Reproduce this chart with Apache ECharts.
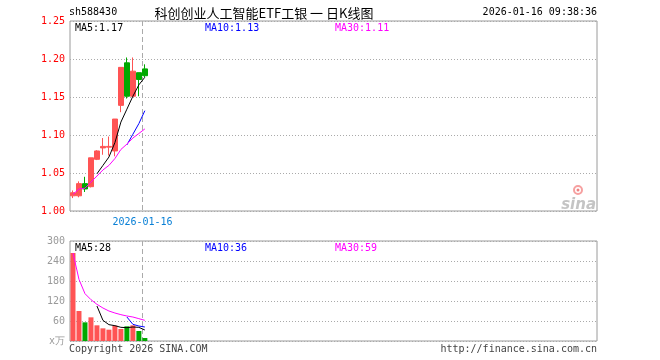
<!DOCTYPE html>
<html><head><meta charset="utf-8">
<script src="https://cdn.jsdelivr.net/npm/echarts@6/dist/echarts.min.js"></script>
<style>html,body{margin:0;padding:0;background:#fff}#c{width:660px;height:360px}</style>
</head><body><div id="c"></div><script>
// ---- data ----
const dates = ['2025-12-29','2025-12-30','2025-12-31','2026-01-05','2026-01-06','2026-01-07','2026-01-08','2026-01-09','2026-01-12','2026-01-13','2026-01-14','2026-01-15','2026-01-16'];
const opens  = [1.020,1.020,1.036,1.032,1.068,1.083,1.084,1.079,1.139,1.195,1.151,1.182,1.187];
const closes = [1.024,1.036,1.029,1.070,1.079,1.085,1.085,1.121,1.189,1.151,1.184,1.173,1.178];
const lows   = [1.017,1.018,1.025,1.031,1.067,1.074,1.073,1.072,1.130,1.148,1.150,1.151,1.176];
const highs  = [1.027,1.039,1.045,1.070,1.080,1.096,1.098,1.121,1.189,1.202,1.202,1.182,1.193];
const volumes = [264,90,56,71,47,38,34,46,36,44,47,30,9];
const ma5  = [null,null,null,null,1.049,1.060,1.071,1.090,1.117,1.134,1.151,1.166,1.176];
const ma10 = [null,null,null,null,null,null,null,null,null,1.087,1.101,1.115,1.132];
const ma30 = [1.022,1.029,1.030,1.038,1.046,1.054,1.060,1.069,1.081,1.088,1.096,1.102,1.108];
const volMa5  = [null,null,null,null,105,62,49,46,41,40,42,41,33];
const volMa10 = [null,null,null,null,null,null,null,null,null,72,50,45,42];
const volMa30 = [264,185,142,124,110,99,90,84,79,75,72,67,62];
const priceAxis = {min:1.00, max:1.25, interval:0.05};
const volAxis = {min:0, max:300, interval:60};
const slotCount = 88;
const code = 'sh588430';
const title = '科创创业人工智能ETF工银 一 日K线图';
const timeText = '2026-01-16 09:38:36';
const priceMaText = ['MA5:1.17','MA10:1.13','MA30:1.11'];
const volMaText = ['MA5:28','MA10:36','MA30:59'];
const dateMark = '2026-01-16';

// ---- build ----
const RED = '#ff5454', GREEN = '#00a800';
const cats = dates.slice();
for (let i = dates.length; i < slotCount; i++) cats.push('_' + i);
const candle = dates.map((d,i)=>[opens[i],closes[i],lows[i],highs[i]]);
const volData = volumes.map((v,i)=>({value:v,itemStyle:{color: closes[i]>=opens[i]?RED:GREEN}}));
const MONO = '"DejaVu Sans Mono", "Liberation Mono", monospace';
const dotted = {show:true,lineStyle:{color:'#aaa',type:[1,2],width:1}};

const chart = echarts.init(document.getElementById('c'), null, {renderer:'canvas'});
const base = {
  animation:false,
  grid:[
    {left:70,right:63,top:21,height:190,show:true,borderColor:'#9a9a9a',borderWidth:1,backgroundColor:'transparent'},
    {left:70,right:63,top:241,height:100,show:true,borderColor:'#9a9a9a',borderWidth:1,backgroundColor:'transparent'}
  ],
  xAxis:[
    {type:'category',gridIndex:0,data:cats,boundaryGap:true,axisLine:{show:false},axisTick:{show:false},axisLabel:{show:false},splitLine:{show:false}},
    {type:'category',gridIndex:1,data:cats,boundaryGap:true,axisLine:{show:false},axisTick:{show:false},axisLabel:{show:false},splitLine:{show:false}}
  ],
  yAxis:[
    {type:'value',gridIndex:0,min:priceAxis.min,max:priceAxis.max,interval:priceAxis.interval,
     axisLine:{show:false},axisTick:{show:false},splitLine:dotted,
     axisLabel:{color:'#f00',fontFamily:MONO,fontSize:10,margin:5,formatter:v=>v.toFixed(2)}},
    {type:'value',gridIndex:1,min:volAxis.min,max:volAxis.max,interval:volAxis.interval,
     axisLine:{show:false},axisTick:{show:false},splitLine:dotted,
     axisLabel:{color:'#9a9a9a',fontFamily:MONO,fontSize:10,margin:5,formatter:v=>v===0?'x万':String(v)}}
  ],
  series:[
    {type:'candlestick',xAxisIndex:0,yAxisIndex:0,data:candle,barWidth:5,
     itemStyle:{color:RED,color0:GREEN,borderColor:RED,borderColor0:GREEN,borderWidth:1}},
    {type:'line',xAxisIndex:0,yAxisIndex:0,data:ma5,showSymbol:false,lineStyle:{color:'#000',width:1},itemStyle:{color:'#000'}},
    {type:'line',xAxisIndex:0,yAxisIndex:0,data:ma10,showSymbol:false,lineStyle:{color:'#0000ff',width:1},itemStyle:{color:'#0000ff'}},
    {type:'line',xAxisIndex:0,yAxisIndex:0,data:ma30,showSymbol:false,lineStyle:{color:'#ff00ff',width:1},itemStyle:{color:'#ff00ff'}},
    {type:'bar',xAxisIndex:1,yAxisIndex:1,data:volData,barWidth:5},
    {type:'line',xAxisIndex:1,yAxisIndex:1,data:volMa5,showSymbol:false,lineStyle:{color:'#000',width:1},itemStyle:{color:'#000'}},
    {type:'line',xAxisIndex:1,yAxisIndex:1,data:volMa10,showSymbol:false,lineStyle:{color:'#0000ff',width:1},itemStyle:{color:'#0000ff'}},
    {type:'line',xAxisIndex:1,yAxisIndex:1,data:volMa30,showSymbol:false,lineStyle:{color:'#ff00ff',width:1},itemStyle:{color:'#ff00ff'}}
  ]
};
chart.setOption(base);

const p11 = chart.convertToPixel({xAxisIndex:0}, dates.length-2);
const p12 = chart.convertToPixel({xAxisIndex:0}, dates.length-1);
const sepX = Math.round((p11+p12)/2) + 0.5;
const topP = chart.convertToPixel({yAxisIndex:0}, priceAxis.max);
const botP = chart.convertToPixel({yAxisIndex:0}, priceAxis.min);
const topV = chart.convertToPixel({yAxisIndex:1}, volAxis.max);
const botV = chart.convertToPixel({yAxisIndex:1}, volAxis.min);
const left = 70, right = 597;
function txt(t,x,y,fill,font,align){return {type:'text',x:x,y:y,silent:true,style:{text:t,fill:fill,font:font,align:align||'left',verticalAlign:'middle'}};}
const f10 = '10px ' + MONO;
chart.setOption({graphic:[
  {type:'line',silent:true,shape:{x1:sepX,y1:topP,x2:sepX,y2:botP},style:{stroke:'#aaa',lineWidth:1,lineDash:[5,3]}},
  {type:'line',silent:true,shape:{x1:sepX,y1:topV,x2:sepX,y2:botV},style:{stroke:'#aaa',lineWidth:1,lineDash:[5,3]}},
  txt(code,left-1,12,'#000',f10),
  txt(title,264,13,'#000','13px "Noto Sans CJK SC", sans-serif','center'),
  txt(timeText,right,12,'#000',f10,'right'),
  txt(priceMaText[0],75,28,'#000',f10),
  txt(priceMaText[1],205,28,'#0000ff',f10),
  txt(priceMaText[2],335,28,'#ff00ff',f10),
  txt(volMaText[0],75,248,'#000',f10),
  txt(volMaText[1],205,248,'#0000ff',f10),
  txt(volMaText[2],335,248,'#ff00ff',f10),
  txt(dateMark,sepX,222,'#0a80d6',f10,'center'),
  txt('Copyright 2026 SINA.COM',left-1,349,'#444',f10),
  txt('http://finance.sina.com.cn',right,349,'#444',f10,'right'),
  txt('sina',right-1,205,'#c4c4c4','italic bold 15px "DejaVu Sans", sans-serif','right'),
  {type:'circle',silent:true,shape:{cx:578,cy:190,r:4},style:{fill:'none',stroke:'#f6a0a0',lineWidth:2}},
  {type:'circle',silent:true,shape:{cx:578,cy:190,r:1.5},style:{fill:'#f08080'}}
]});
</script></body></html>
